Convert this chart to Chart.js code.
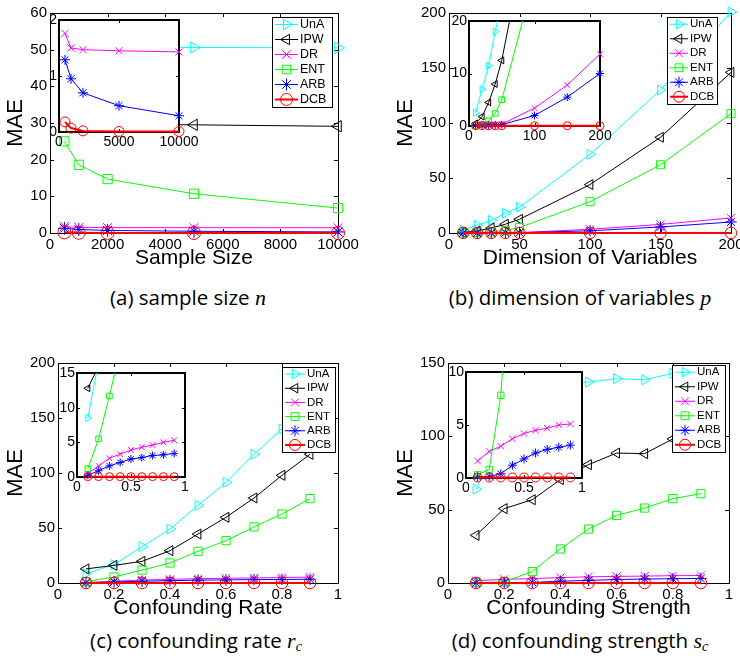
<!DOCTYPE html>
<html>
<head>
<meta charset="utf-8">
<script src="https://cdn.jsdelivr.net/npm/chart.js@4.4.0/dist/chart.umd.min.js"></script>
<style>
body { margin: 0; background: #fff; width: 740px; height: 665px; position: relative; overflow: hidden; }
canvas { position: absolute; }
.cap { position: absolute; font-family: "Open Sans", "DejaVu Sans", sans-serif; font-size: 20.5px; line-height: 24px; white-space: nowrap; transform: translateX(-50%); color: #000; }
.cap i { font-family: "Liberation Serif", serif; font-size: 22px; }
.cap sub { font-size: 14px; vertical-align: -3px; }
</style>
</head>
<body>
<canvas id="mainA" width="370" height="271" style="left:0px;top:0px"></canvas>
<canvas id="mainB" width="350" height="271" style="left:390px;top:0px"></canvas>
<canvas id="mainC" width="370" height="271" style="left:0px;top:350px"></canvas>
<canvas id="mainD" width="350" height="271" style="left:390px;top:350px"></canvas>
<canvas id="insetA" width="160" height="145" style="left:40px;top:10px"></canvas>
<canvas id="insetB" width="180" height="140" style="left:445px;top:10px"></canvas>
<canvas id="insetC" width="150" height="140" style="left:55px;top:360px"></canvas>
<canvas id="insetD" width="160" height="140" style="left:445px;top:360px"></canvas>

<div class="cap" style="left:188px;top:285px">(a) sample size <i>n</i></div>
<div class="cap" style="left:580px;top:285px">(b) dimension of variables <i>p</i></div>
<div class="cap" style="left:196px;top:628px">(c) confounding rate <i>r<sub>c</sub></i></div>
<div class="cap" style="left:580px;top:628px">(d) confounding strength <i>s<sub>c</sub></i></div>

<script>
// Series (same order in every panel)
const seriesNames = ['UnA', 'IPW', 'DR', 'ENT', 'ARB', 'DCB'];
const seriesColors = ['#00ffff', '#000000', '#ff00ff', '#00ff00', '#0000ff', '#ff0000'];
const pointStyles = ['triangle', 'triangle', 'crossRot', 'rect', 'star', 'circle'];
const pointRotations = [90, -90, 0, 0, 0, 0];

// (a) sample size
const sizeX = [500, 1000, 2000, 5000, 10000];
const sizeUnA = [50.9, 50.8, 50.7, 50.6, 50.5];
const sizeIPW = [30.0, 29.8, 29.6, 29.5, 29.1];
const sizeDR = [1.76, 1.50, 1.47, 1.45, 1.43];
const sizeENT = [25.0, 18.6, 14.7, 10.7, 6.8];
const sizeARB = [1.29, 0.95, 0.70, 0.47, 0.29];
const sizeDCB = [0.18, 0.07, 0.02, 0.01, 0.01];

// (b) dimension of variables
const dimX = [10, 20, 30, 40, 50, 100, 150, 200];
const dimUnA = [2.5, 7, 11.5, 18, 23.5, 71.5, 130, 201];
const dimIPW = [0.5, 1.8, 4.5, 8, 12.5, 44, 87, 146];
const dimDR = [0.15, 0.2, 0.25, 0.3, 0.35, 3.4, 7.8, 13.7];
const dimENT = [0.1, 0.3, 1.0, 2.4, 5.0, 28.5, 62, 108.5];
const dimARB = [0.1, 0.12, 0.15, 0.2, 0.25, 2.0, 5.5, 10];
const dimDCB = [0.05, 0.05, 0.05, 0.05, 0.05, 0.05, 0.05, 0.05];

// (c) confounding rate
const rateX = [0.1, 0.2, 0.3, 0.4, 0.5, 0.6, 0.7, 0.8, 0.9];
const rateUnA = [8.5, 16.7, 33, 49, 70.6, 91.5, 117, 140, 165];
const rateIPW = [12.8, 16, 19.7, 29.4, 44.5, 59.7, 77.3, 97.9, 117];
const rateDR = [0.5, 1.6, 2.7, 3.3, 3.9, 4.3, 4.6, 5.0, 5.3];
const rateENT = [1.2, 5.5, 11.7, 18.2, 28.8, 38.5, 51, 62.7, 76.7];
const rateARB = [0.25, 0.9, 1.6, 2.1, 2.6, 2.8, 3.1, 3.2, 3.4];
const rateDCB = [0.05, 0.05, 0.05, 0.05, 0.05, 0.05, 0.05, 0.05, 0.05];

// (d) confounding strength
const strX = [0.1, 0.2, 0.3, 0.4, 0.5, 0.6, 0.7, 0.8, 0.9];
const strUnA = [64, 105, 125, 136, 137, 139.3, 138.6, 143, 145];
const strIPW = [32.5, 50.7, 56.8, 70.5, 80.7, 88.6, 88.2, 98.2, 104];
const strDR = [1.6, 2.5, 3.0, 3.7, 4.2, 4.5, 4.7, 5.0, 5.1];
const strENT = [0.3, 0.8, 7.8, 23.2, 36.8, 46.1, 51.1, 57.5, 60.9];
const strARB = [0.1, 0.15, 0.4, 1.2, 1.8, 2.36, 2.7, 2.9, 3.1];
const strDCB = [0.05, 0.05, 0.05, 0.05, 0.05, 0.05, 0.05, 0.05, 0.05];

const FONT = '"Liberation Sans", Arial, sans-serif';

// frame with inward ticks on all four sides (MATLAB box style)
const framePlugin = {
  id: 'frame',
  beforeDatasetsDraw(chart, args, o) {
    const a = chart.chartArea, ctx = chart.ctx;
    ctx.save();
    if (o.fill) {
      ctx.fillStyle = '#fff';
      ctx.fillRect(a.left, a.top, a.right - a.left, a.bottom - a.top);
    }
    ctx.strokeStyle = '#000';
    ctx.lineWidth = 1;
    ctx.beginPath();
    chart.scales.x.ticks.forEach(t => {
      const px = Math.round(chart.scales.x.getPixelForValue(t.value)) + 0.5;
      ctx.moveTo(px, a.bottom); ctx.lineTo(px, a.bottom - o.tick);
      ctx.moveTo(px, a.top); ctx.lineTo(px, a.top + o.tick);
    });
    chart.scales.y.ticks.forEach(t => {
      const py = Math.round(chart.scales.y.getPixelForValue(t.value)) + 0.5;
      ctx.moveTo(a.left, py); ctx.lineTo(a.left + o.tick, py);
      ctx.moveTo(a.right, py); ctx.lineTo(a.right - o.tick, py);
    });
    ctx.stroke();
    ctx.lineWidth = o.width;
    const off = o.width % 2 ? 0.5 : 0;
    ctx.strokeRect(Math.round(a.left) + off, Math.round(a.top) + off,
      Math.round(a.right - a.left), Math.round(a.bottom - a.top));
    ctx.restore();
  }
};

// legend box inside the axes, top right
const boxLegendPlugin = {
  id: 'boxLegend',
  afterDraw(chart, args, o) {
    if (!o || !o.w) return;
    const a = chart.chartArea, ctx = chart.ctx;
    const x0 = Math.round(a.right - o.gapR - o.w), y0 = Math.round(a.top + o.gapT);
    ctx.save();
    ctx.fillStyle = '#fff';
    ctx.fillRect(x0, y0, o.w, o.h);
    ctx.strokeStyle = '#000';
    ctx.lineWidth = 1;
    ctx.strokeRect(x0 + 0.5, y0 + 0.5, o.w, o.h);
    chart.data.datasets.forEach((ds, i) => {
      const cy = y0 + o.h * (i + 0.5) / 6;
      ctx.strokeStyle = ds.borderColor;
      ctx.lineWidth = ds.borderWidth;
      ctx.beginPath();
      ctx.moveTo(x0 + o.l0, cy); ctx.lineTo(x0 + o.l1, cy);
      ctx.stroke();
      ctx.lineWidth = 1;
      ctx.fillStyle = 'rgba(0,0,0,0)';
      Chart.helpers.drawPoint(ctx, {
        pointStyle: ds.pointStyle, rotation: ds.rotation, radius: o.r, borderWidth: 1
      }, x0 + (o.l0 + o.l1) / 2, cy);
      ctx.fillStyle = '#000';
      ctx.font = o.font + 'px ' + FONT;
      ctx.textBaseline = 'middle';
      ctx.textAlign = 'left';
      ctx.fillText(ds.label, x0 + o.tx, cy);
    });
    ctx.restore();
  }
};

const fmt = v => String(Math.round(v * 1000) / 1000);

function makeChart(id, o) {
  const ys = o.series;
  new Chart(document.getElementById(id), {
    type: 'line',
    data: {
      datasets: ys.map((vals, i) => ({
        label: seriesNames[i],
        data: o.x.map((x, k) => ({ x: x, y: vals[k] })),
        borderColor: seriesColors[i],
        backgroundColor: 'rgba(0,0,0,0)',
        pointBorderColor: seriesColors[i],
        pointBackgroundColor: 'rgba(0,0,0,0)',
        pointStyle: pointStyles[i],
        rotation: pointRotations[i],
        pointRadius: o.r,
        pointBorderWidth: 1,
        borderWidth: i === 5 ? 2 : 1,
        tension: 0,
        order: 5 - i,
        clip: o.clip
      }))
    },
    options: {
      responsive: false,
      animation: false,
      events: [],
      layout: { padding: o.pad },
      plugins: {
        legend: { display: false },
        tooltip: { enabled: false },
        frame: { fill: o.inset, tick: o.inset ? 3 : 4, width: o.inset ? 2 : 1 },
        boxLegend: o.legend || {}
      },
      scales: {
        x: {
          type: 'linear', min: o.xr[0], max: o.xr[1],
          ticks: { stepSize: o.xr[2], callback: fmt, color: '#000', padding: o.inset ? 2 : 3,
                   maxRotation: 0, autoSkip: false, font: { family: FONT, size: o.inset ? 14 : 15 } },
          grid: { display: false, drawTicks: false },
          border: { display: false },
          title: { display: !!o.xTitle, text: o.xTitle, color: '#000', padding: 0,
                   font: { family: FONT, size: 21 } },
          afterFit(s) { s.height = o.xH; s.paddingLeft = s.paddingRight = s.paddingTop = s.paddingBottom = 0; }
        },
        y: {
          type: 'linear', min: o.yr[0], max: o.yr[1],
          ticks: { stepSize: o.yr[2], callback: fmt, color: '#000', padding: o.inset ? 2 : 3,
                   font: { family: FONT, size: o.inset ? 14 : 15 } },
          grid: { display: false, drawTicks: false },
          border: { display: false },
          title: { display: !o.inset, text: 'MAE', color: '#000', padding: { top: 3, bottom: 0 },
                   font: { family: FONT, size: 22 } },
          afterFit(s) { s.width = o.yW; s.paddingLeft = s.paddingRight = s.paddingTop = s.paddingBottom = 0; }
        }
      }
    },
    plugins: [framePlugin, boxLegendPlugin]
  });
}

const mainClip = false;
const insetClip = { left: 8, right: 8, top: 0, bottom: 8 };

makeChart('mainA', {
  x: sizeX, series: [sizeUnA, sizeIPW, sizeDR, sizeENT, sizeARB, sizeDCB],
  xr: [0, 10000, 2000], yr: [0, 60, 10], xTitle: 'Sample Size',
  pad: { left: 0, top: 13, right: 32, bottom: 0 }, yW: 50, xH: 38, r: 6.5, clip: mainClip,
  legend: { w: 60, h: 90, gapR: 6, gapT: 4, l0: 3, l1: 26, tx: 28, r: 6, font: 12.5 }
});
makeChart('mainB', {
  x: dimX, series: [dimUnA, dimIPW, dimDR, dimENT, dimARB, dimDCB],
  xr: [0, 200, 50], yr: [0, 200, 50], xTitle: 'Dimension of Variables',
  pad: { left: 0, top: 13, right: 9, bottom: 0 }, yW: 59, xH: 38, r: 5.7, clip: mainClip,
  legend: { w: 50, h: 87, gapR: 14, gapT: 4, l0: 3, l1: 21, tx: 23, r: 5.5, font: 11.5 }
});
makeChart('mainC', {
  x: rateX, series: [rateUnA, rateIPW, rateDR, rateENT, rateARB, rateDCB],
  xr: [0, 1, 0.2], yr: [0, 200, 50], xTitle: 'Confounding Rate',
  pad: { left: 0, top: 13, right: 32, bottom: 0 }, yW: 58, xH: 38, r: 5.8, clip: mainClip,
  legend: { w: 53, h: 85, gapR: 3, gapT: 4, l0: 3, l1: 23, tx: 25, r: 5.5, font: 11.5 }
});
makeChart('mainD', {
  x: strX, series: [strUnA, strIPW, strDR, strENT, strARB, strDCB],
  xr: [0, 1, 0.2], yr: [0, 150, 50], xTitle: 'Confounding Strength',
  pad: { left: 0, top: 13, right: 11, bottom: 0 }, yW: 58, xH: 38, r: 5.8, clip: mainClip,
  legend: { w: 53, h: 87, gapR: 4, gapT: 2, l0: 3, l1: 23, tx: 25, r: 5.5, font: 11.5 }
});

makeChart('insetA', {
  inset: true, x: sizeX, series: [sizeUnA, sizeIPW, sizeDR, sizeENT, sizeARB, sizeDCB],
  xr: [0, 10000, 5000], yr: [0, 2, 1],
  pad: { left: 0, top: 10, right: 21, bottom: 0 }, yW: 19, xH: 23, r: 5, clip: insetClip
});
makeChart('insetB', {
  inset: true, x: dimX, series: [dimUnA, dimIPW, dimDR, dimENT, dimARB, dimDCB],
  xr: [0, 200, 100], yr: [0, 20, 10],
  pad: { left: 0, top: 11, right: 25, bottom: 0 }, yW: 24, xH: 24, r: 4, clip: insetClip
});
makeChart('insetC', {
  inset: true, x: rateX, series: [rateUnA, rateIPW, rateDR, rateENT, rateARB, rateDCB],
  xr: [0, 1, 0.5], yr: [0, 15, 5],
  pad: { left: 0, top: 13, right: 20, bottom: 0 }, yW: 22, xH: 23, r: 4, clip: insetClip
});
makeChart('insetD', {
  inset: true, x: strX, series: [strUnA, strIPW, strDR, strENT, strARB, strDCB],
  xr: [0, 1, 0.5], yr: [0, 10, 5],
  pad: { left: 0, top: 12, right: 23, bottom: 0 }, yW: 21, xH: 22, r: 4.5, clip: insetClip
});
</script>
</body>
</html>
